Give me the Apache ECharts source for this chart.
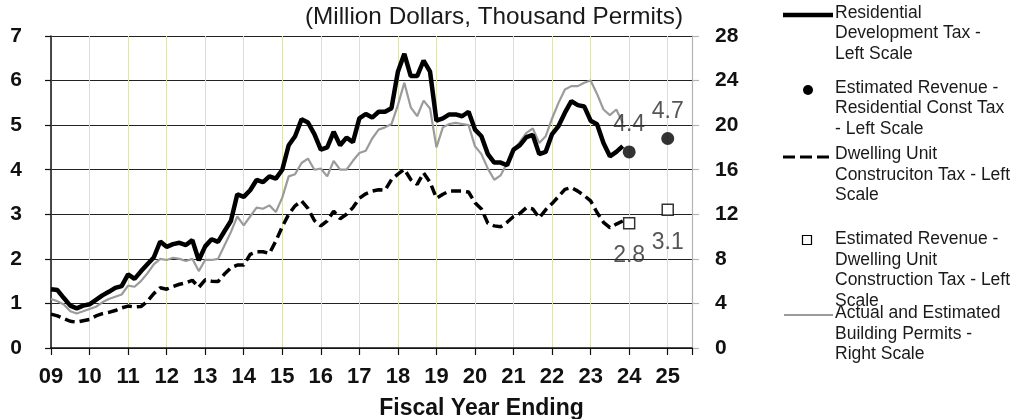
<!DOCTYPE html>
<html>
<head>
<meta charset="utf-8">
<script src="https://cdn.jsdelivr.net/npm/echarts@6/dist/echarts.min.js"></script>
<style>
html,body{margin:0;padding:0;background:#fff;}
#chart{width:1013px;height:419px;}
</style>
</head>
<body>
<div id="chart"></div>
<script>
// Fiscal-year axis: data every 2 months starting at FY 09
const startYear = 9;
const stepsPerYear = 6;

// Residential Development Tax (million $, left scale)
const residentialDevTax = [
  1.32,1.30,1.12,0.95,0.89,0.95,
  0.98,1.08,1.18,1.26,1.35,1.39,
  1.65,1.55,1.72,1.88,2.03,2.39,
  2.27,2.33,2.36,2.31,2.42,1.97,
  2.28,2.44,2.38,2.62,2.85,3.45,
  3.39,3.54,3.77,3.72,3.85,3.80,
  4.00,4.55,4.75,5.13,5.06,4.80,
  4.45,4.50,4.85,4.55,4.72,4.62,
  5.15,5.25,5.17,5.30,5.30,5.38,
  6.20,6.60,6.10,6.10,6.45,6.20,
  5.10,5.15,5.24,5.24,5.20,5.30,
  4.90,4.75,4.35,4.16,4.16,4.10,
  4.45,4.55,4.73,4.78,4.35,4.40,
  4.80,4.98,5.28,5.54,5.45,5.42,
  5.10,5.02,4.60,4.30,4.40,4.53
];

// Dwelling Unit Construction Tax (million $, left scale)
const dwellingUnitTax = [
  0.76,0.72,0.66,0.60,0.58,0.61,
  0.64,0.72,0.77,0.80,0.84,0.90,
  0.94,0.92,0.93,1.05,1.22,1.35,
  1.32,1.38,1.43,1.46,1.52,1.36,
  1.53,1.50,1.49,1.66,1.80,1.86,
  1.86,2.10,2.16,2.16,2.12,2.40,
  2.72,3.00,3.19,3.30,3.13,2.86,
  2.74,2.85,3.07,2.90,3.00,3.15,
  3.36,3.46,3.52,3.55,3.54,3.78,
  3.90,4.01,3.78,3.67,3.93,3.72,
  3.36,3.45,3.52,3.52,3.52,3.50,
  3.26,3.12,2.80,2.74,2.72,2.82,
  2.95,3.02,3.15,3.12,2.92,3.10,
  3.24,3.40,3.56,3.60,3.52,3.42,
  3.30,3.04,2.82,2.70,2.78,2.85
];

// Building permits (thousand, right scale)
const buildingPermits = [
  4.4,4.2,3.9,3.3,3.1,3.3,
  3.5,3.7,4.1,4.4,4.6,4.8,
  5.6,5.5,6.0,6.7,7.5,8.0,
  7.9,8.1,8.0,7.8,8.0,6.9,
  7.9,7.9,8.0,9.2,10.4,11.8,
  11.0,11.8,12.6,12.5,12.8,12.2,
  13.5,15.4,15.6,16.6,17.0,16.0,
  16.1,15.4,16.8,16.0,16.0,16.8,
  17.5,17.7,18.8,19.6,19.8,20.1,
  21.8,23.8,21.6,20.8,22.2,21.5,
  18.0,19.8,20.1,20.2,20.1,20.0,
  18.1,17.4,16.1,15.1,15.5,16.6,
  17.8,18.5,19.3,19.7,18.4,19.0,
  20.6,22.0,23.2,23.5,23.5,23.8,
  24.0,22.8,21.4,20.9,21.4,20.2
];

// Estimated revenue points (fiscal year, value)
const estYears = [24, 25];
const estResidential = [4.4, 4.7];
const estDwelling = [2.8, 3.1];

const leftTicks = { min: 0, max: 7, interval: 1 };
const rightTicks = { min: 0, max: 28, interval: 4 };

const FONT = '"Liberation Sans", Arial, Helvetica, sans-serif';

const periods = residentialDevTax.map((_, i) => startYear + i / stepsPerYear);
const pairs = (vals) => vals.map((v, i) => [periods[i], v]);
const estPairs = (vals) => vals.map((v, i) => [estYears[i], v]);

const chart = echarts.init(document.getElementById('chart'), null, { renderer: 'canvas' });

const legendFont = '17.5px ' + FONT;
const legendText = (y, text) => ({
  type: 'text', x: 835, y: y, silent: true,
  style: { text: text, font: legendFont, fill: '#1a1a1a', lineHeight: 20.5, verticalAlign: 'top', align: 'left' }
});

chart.setOption({
  animation: false,
  backgroundColor: '#fff',
  grid: { left: 51, right: 321, top: 36, bottom: 71, containLabel: false, outerBoundsMode: 'none' },
  xAxis: {
    type: 'value',
    min: 9, max: 25.63, interval: 1,
    name: 'Fiscal Year Ending',
    nameLocation: 'middle',
    nameGap: 49,
    nameTextStyle: { fontFamily: FONT, fontSize: 23, fontWeight: 'bold', color: '#111', padding: [0, 0, 0, 220] },
    axisLine: { show: true, lineStyle: { color: '#111', width: 1.5 } },
    axisTick: { show: true, inside: false, length: 7, lineStyle: { color: '#111', width: 1.2 } },
    axisLabel: {
      margin: 18, fontFamily: FONT, fontSize: 22, fontWeight: 'bold', color: '#111',
      formatter: (v) => (Math.abs(v - Math.round(v)) < 1e-6 ? String(Math.round(v)).padStart(2, '0') : '')
    },
    splitLine: { show: true, lineStyle: { color: '#dde2b8', width: 1 } }
  },
  yAxis: [
    {
      type: 'value', position: 'left',
      min: leftTicks.min, max: leftTicks.max, interval: leftTicks.interval,
      axisLine: { show: true, lineStyle: { color: '#111', width: 1.5 } },
      axisTick: { show: true, length: 6, lineStyle: { color: '#111', width: 1.2 } },
      axisLabel: { margin: 29, fontFamily: FONT, fontSize: 21, fontWeight: 'bold', color: '#111' },
      splitLine: { show: true, lineStyle: { color: '#222', width: 1.2 } }
    },
    {
      type: 'value', position: 'right',
      min: rightTicks.min, max: rightTicks.max, interval: rightTicks.interval,
      axisLine: { show: true, lineStyle: { color: '#b4b4b4', width: 1.2 } },
      axisTick: { show: true, length: 7, lineStyle: { color: '#b4b4b4', width: 1.2 } },
      axisLabel: { margin: 23, fontFamily: FONT, fontSize: 21, fontWeight: 'bold', color: '#111' },
      splitLine: { show: false }
    }
  ],
  series: [
    {
      name: 'Actual and Estimated Building Permits - Right Scale',
      type: 'line', yAxisIndex: 1, data: pairs(buildingPermits),
      showSymbol: false, lineStyle: { color: '#9b9b9b', width: 2.2 }, z: 2
    },
    {
      name: 'Dwelling Unit Construciton Tax - Left Scale',
      type: 'line', yAxisIndex: 0, data: pairs(dwellingUnitTax),
      showSymbol: false, lineStyle: { color: '#000', width: 3.5, type: [10, 5] }, z: 3
    },
    {
      name: 'Residential Development Tax - Left Scale',
      type: 'line', yAxisIndex: 0, data: pairs(residentialDevTax),
      showSymbol: false, lineStyle: { color: '#000', width: 4.5 }, z: 4
    },
    {
      name: 'Estimated Revenue - Residential Const Tax - Left Scale',
      type: 'scatter', yAxisIndex: 0, data: estPairs(estResidential),
      symbol: 'circle', symbolSize: 13, itemStyle: { color: '#000' }, z: 5,
      label: { show: true, position: 'top', distance: 9, fontFamily: FONT, fontSize: 23, color: '#2a2a2a',
        formatter: (p) => p.value[1].toFixed(1) }
    },
    {
      name: 'Estimated Revenue - Dwelling Unit Construction Tax - Left Scale',
      type: 'scatter', yAxisIndex: 0, data: estPairs(estDwelling),
      symbol: 'rect', symbolSize: 11, itemStyle: { color: '#fff', borderColor: '#000', borderWidth: 1.5 }, z: 5,
      label: { show: true, position: 'bottom', distance: 15, fontFamily: FONT, fontSize: 23, color: '#2a2a2a',
        formatter: (p) => p.value[1].toFixed(1) }
    }
  ],
  graphic: [
    { type: 'text', x: 683, y: 5, silent: true,
      style: { text: '(Million Dollars, Thousand Permits)', font: '24.3px ' + FONT, fill: '#1a1a1a', align: 'right', verticalAlign: 'top' } },
    // legend
    { type: 'line', silent: true, shape: { x1: 783, y1: 15, x2: 833, y2: 15 }, style: { stroke: '#000', lineWidth: 4.5 } },
    legendText(2.8, 'Residential\nDevelopment Tax -\nLeft Scale'),
    { type: 'circle', silent: true, shape: { cx: 808, cy: 90, r: 5 }, style: { fill: '#000' } },
    legendText(77.8, 'Estimated Revenue -\nResidential Const Tax\n- Left Scale'),
    { type: 'line', silent: true, shape: { x1: 783, y1: 157, x2: 833, y2: 157 }, style: { stroke: '#000', lineWidth: 3, lineDash: [12, 5] } },
    legendText(144.4, 'Dwelling Unit\nConstruciton Tax - Left\nScale'),
    { type: 'rect', silent: true, shape: { x: 802.5, y: 235.5, width: 9, height: 9 }, style: { fill: '#fff', stroke: '#000', lineWidth: 1.2 } },
    legendText(229.4, 'Estimated Revenue -\nDwelling Unit\nConstruction Tax - Left\nScale'),
    { type: 'line', silent: true, shape: { x1: 784, y1: 315, x2: 833, y2: 315 }, style: { stroke: '#9b9b9b', lineWidth: 2.2 } },
    legendText(303.4, 'Actual and Estimated\nBuilding Permits -\nRight Scale')
  ]
});
</script>
</body>
</html>
